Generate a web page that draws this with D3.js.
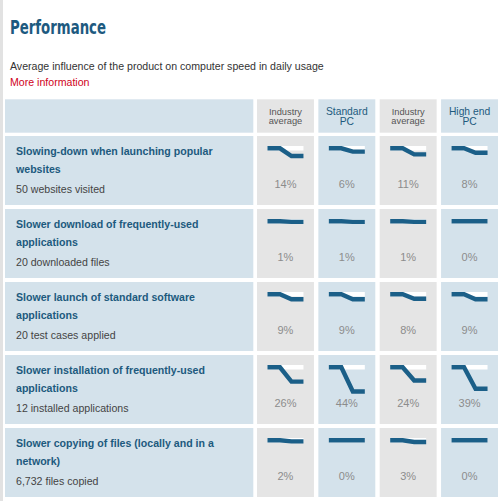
<!DOCTYPE html>
<html><head><meta charset="utf-8">
<script src="https://cdn.jsdelivr.net/npm/d3@7"></script>
<style>
html,body{margin:0;padding:0;background:#fff;}
svg{display:block;}
</style></head>
<body>
<svg id="chart" width="500" height="501"></svg>
<script>
const title = "Performance";
const subtitle = "Average influence of the product on computer speed in daily usage";
const linkText = "More information";
const columns = ["Industry average", "Standard PC", "Industry average", "High end PC"];
const columnLines = [["Industry", "average"], ["Standard", "PC"], ["Industry", "average"], ["High end", "PC"]];
const columnKind = ["industry", "product", "industry", "product"];
const tests = [
  ["Slowing-down when launching popular", "websites"],
  ["Slower download of frequently-used", "applications"],
  ["Slower launch of standard software", "applications"],
  ["Slower installation of frequently-used", "applications"],
  ["Slower copying of files (locally and in a", "network)"]
];
const testNotes = ["50 websites visited", "20 downloaded files", "20 test cases applied", "12 installed applications", "6,732 files copied"];
const row1 = [14, 6, 11, 8];
const row2 = [1, 1, 1, 0];
const row3 = [9, 9, 8, 9];
const row4 = [26, 44, 24, 39];
const row5 = [2, 0, 3, 0];
const values = [row1, row2, row3, row4, row5];

const svg = d3.select("#chart");
const BLUE = "#d4e2eb", GREY = "#e5e5e5", DARK = "#1b5f88", TEXTBLUE = "#1d5a7e";
const F = "'Liberation Sans', Arial, Helvetica, sans-serif";

// left border strip
svg.append("rect").attr("x", 0).attr("y", 0).attr("width", 3).attr("height", 501).attr("fill", "#e2e2e2");

svg.append("text").attr("x", 10).attr("y", 34)
  .attr("font-family", "'Liberation Sans Narrow', 'DejaVu Sans Condensed', sans-serif")
  .attr("font-weight", "bold").attr("font-size", 20).attr("fill", "#1d5a80")
  .attr("textLength", 96).attr("lengthAdjust", "spacingAndGlyphs")
  .text(title);
svg.append("text").attr("x", 10).attr("y", 70).attr("font-family", F).attr("font-size", 10.6)
  .attr("fill", "#333").text(subtitle);
svg.append("text").attr("x", 10).attr("y", 85.5).attr("font-family", F).attr("font-size", 10.6)
  .attr("fill", "#d0021b").text(linkText);

const x = d3.scaleBand().domain(d3.range(columns.length)).range([257, 498]).paddingInner(0.072);
const y = d3.scaleBand().domain(d3.range(tests.length)).range([136, 497]).paddingInner(4 / 73);
const headTop = 99.3, headBottom = 132.7;
const leftX = 5, leftW = 248.3;
const drop = d3.scaleLinear().domain([0, 100]).range([0, 55]);

// header row
svg.append("rect").attr("x", leftX).attr("y", headTop).attr("width", leftW).attr("height", headBottom - headTop).attr("fill", BLUE);
const head = svg.selectAll("g.head").data(columns).join("g").attr("class", "head");
head.append("rect").attr("x", (d, i) => x(i)).attr("y", headTop).attr("width", x.bandwidth())
  .attr("height", headBottom - headTop).attr("fill", (d, i) => columnKind[i] === "industry" ? GREY : BLUE);
head.each(function (d, i) {
  const g = d3.select(this);
  const ind = columnKind[i] === "industry";
  columnLines[i].forEach((ln, k) => {
    g.append("text").attr("text-anchor", "middle").attr("font-family", F)
      .attr("font-size", ind ? 9.3 : 10.3).attr("fill", ind ? "#555" : TEXTBLUE)
      .attr("x", x(i) + x.bandwidth() / 2)
      .attr("y", ind ? 114.8 + k * 8.8 : 114.6 + k * 10.8).text(ln);
  });
});

// body rows
const rows = svg.selectAll("g.row").data(tests).join("g").attr("class", "row")
  .attr("transform", (d, r) => `translate(0,${y(r)})`);
rows.append("rect").attr("x", leftX).attr("y", 0).attr("width", leftW).attr("height", y.bandwidth()).attr("fill", BLUE);
rows.each(function (d, r) {
  const g = d3.select(this);
  d.forEach((ln, k) => {
    g.append("text").attr("x", 16).attr("y", 18.5 + k * 18.5).attr("font-family", F)
      .attr("font-weight", "bold").attr("font-size", 10.6).attr("fill", TEXTBLUE).text(ln);
  });
  g.append("text").attr("x", 16).attr("y", 56.5).attr("font-family", F).attr("font-size", 10.6)
    .attr("fill", "#444").text(testNotes[r]);

  const cells = g.selectAll("g.cell").data(values[r]).join("g").attr("class", "cell");
  cells.append("rect").attr("x", (v, i) => x(i)).attr("y", 0).attr("width", x.bandwidth())
    .attr("height", y.bandwidth()).attr("fill", (v, i) => columnKind[i] === "industry" ? GREY : BLUE);
  const sx = (v, i) => x(i) + x.bandwidth() / 2 - 18;
  const lineY = 12.3;
  cells.append("line").attr("x1", sx).attr("x2", (v, i) => sx(v, i) + 36)
    .attr("y1", lineY).attr("y2", lineY).attr("stroke", "#fff").attr("stroke-width", 4.4);
  cells.append("path").attr("fill", "none").attr("stroke", DARK).attr("stroke-width", 4.4)
    .attr("stroke-linejoin", "miter").attr("stroke-linecap", "butt")
    .attr("d", (v, i) => {
      const x0 = sx(v, i);
      return d3.line()([[x0, lineY], [x0 + 12.5, lineY], [x0 + 24, lineY + drop(v)], [x0 + 36, lineY + drop(v)]]);
    });
  cells.append("text").attr("x", (v, i) => x(i) + x.bandwidth() / 2).attr("y", 52)
    .attr("text-anchor", "middle").attr("font-family", F).attr("font-size", 11)
    .attr("fill", "#8c8c8c").text(v => v + "%");
});
</script>
</body></html>
